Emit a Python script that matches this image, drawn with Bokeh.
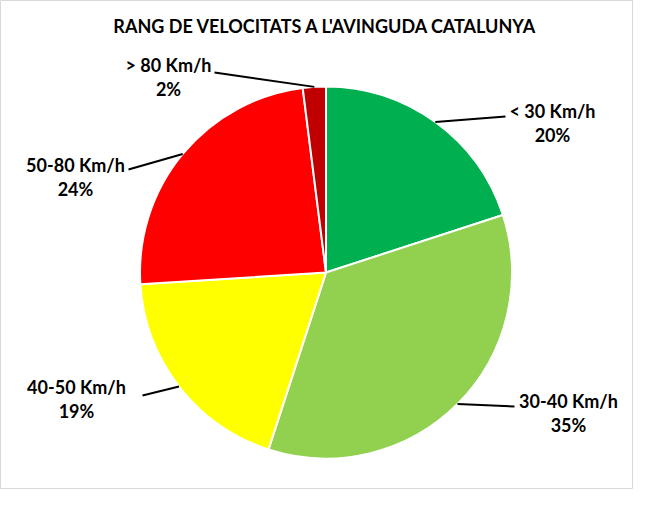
import math
from bokeh.plotting import figure
from bokeh.models import ColumnDataSource
from bokeh.core.properties import value
from bokeh.embed import file_html
from bokeh.resources import INLINE

# ---- data ----
categories = ["< 30 Km/h", "30-40 Km/h", "40-50 Km/h", "50-80 Km/h", "> 80 Km/h"]
percents = [20, 35, 19, 24, 2]
colors = ["#00B050", "#92D050", "#FFFF00", "#FF0000", "#C00000"]
title_text = "RANG DE VELOCITATS A L'AVINGUDA CATALUNYA"

# ---- layout (pixel space, y measured upward) ----
W, H = 633, 489
CX, CY, R = 325.5, 217, 186
# label anchor (center of the first text line) and leader-line end near label
label_pos = [(552, 379), (568, 89), (76, 103), (75, 325), (168, 425)]
line_end = [(505, 373), (514, 83), (142, 94), (128, 320), (214, 417)]
LINE_GAP = 24

FONT = "Lato"
LABEL_SIZE = "18px"

p = figure(width=W, height=H, x_range=(0, W), y_range=(0, H),
           output_backend="svg", toolbar_location=None, min_border=0)
p.axis.visible = False
p.grid.visible = False
p.outline_line_color = "#d9d9d9"
p.outline_line_width = 1
p.background_fill_color = "white"
p.border_fill_color = "white"

total = float(sum(percents))
starts, ends, mids = [], [], []
cum = 0.0
for v in percents:
    a0 = math.pi / 2 - 2 * math.pi * cum / total
    cum += v
    a1 = math.pi / 2 - 2 * math.pi * cum / total
    starts.append(a0)
    ends.append(a1)
    mids.append((a0 + a1) / 2)

src = ColumnDataSource(dict(start=starts, end=ends, color=colors))
p.wedge(x=CX, y=CY, radius=R, start_angle="start", end_angle="end",
        direction="clock", fill_color="color", line_color="white",
        line_width=2, source=src)

# leader lines
xs, ys = [], []
for m, (ex, ey) in zip(mids, line_end):
    px = CX + R * math.cos(m)
    py = CY + R * math.sin(m)
    xs.append([px, ex])
    ys.append([py, ey])
p.multi_line(xs=xs, ys=ys, line_color="black", line_width=2)

# labels
lx = [q[0] for q in label_pos]
ly1 = [q[1] for q in label_pos]
ly2 = [q[1] - LINE_GAP for q in label_pos]
p.text(x=lx, y=ly1, text=categories, text_font=value(FONT),
       text_font_style="bold", text_font_size=LABEL_SIZE, text_color="black",
       text_align="center", text_baseline="middle")
p.text(x=lx, y=ly2, text=[f"{v}%" for v in percents], text_font=value(FONT),
       text_font_style="bold", text_font_size=LABEL_SIZE, text_color="black",
       text_align="center", text_baseline="middle")

# title
p.text(x=[325], y=[464], text=[title_text], text_font=value(FONT),
       text_font_style="bold", text_font_size="18px", text_color="black",
       text_align="center", text_baseline="middle")

open("out.html", "w").write(file_html(p, INLINE))
